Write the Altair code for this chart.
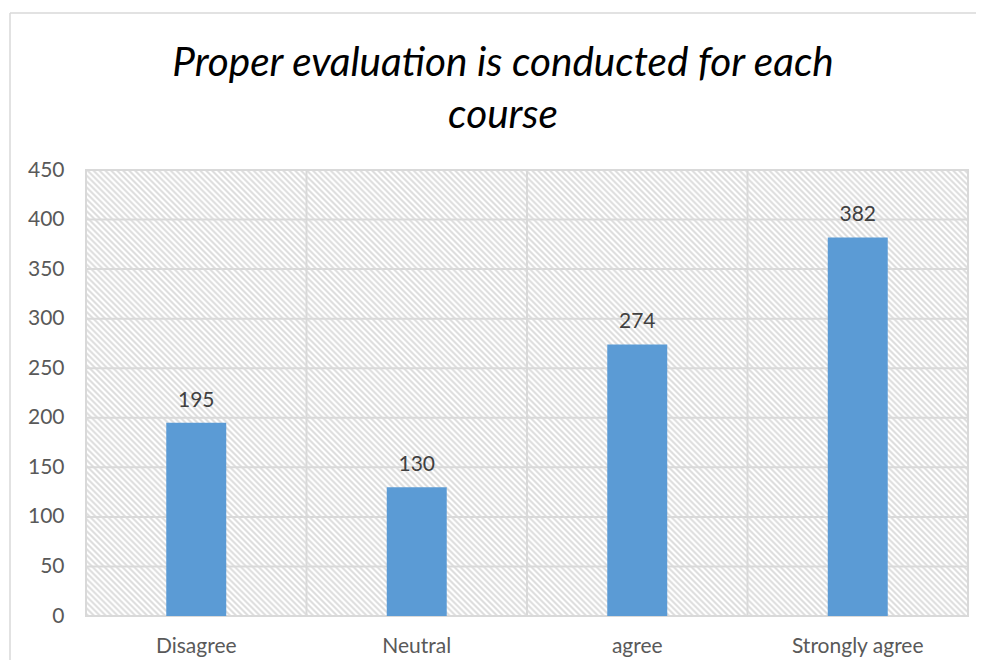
import altair as alt
import pandas as pd

categories = ["Disagree", "Neutral", "agree", "Strongly agree"]
counts = [195, 130, 274, 382]
y_ticks = [0, 50, 100, 150, 200, 250, 300, 350, 400, 450]
title_lines = ["Proper evaluation is conducted for each", "course"]

W, H = 882, 446
FONT = "Lato"

df = pd.DataFrame({"cat": categories, "n": counts})
grid_df = pd.DataFrame({"v": y_ticks})
bg_df = pd.DataFrame({"a": [0]})

# diagonal hatch pattern via a striped gradient (45 degree lines)
r = H / W
k = (1 + r) / (1 + r * r)
N = 224
stops = []
for i in range(N):
    stops += [
        alt.GradientStop(offset=i / N, color="#ffffff"),
        alt.GradientStop(offset=(i + 0.3) / N, color="#dedede"),
        alt.GradientStop(offset=(i + 0.5) / N, color="#dedede"),
        alt.GradientStop(offset=(i + 0.8) / N, color="#ffffff"),
    ]
stops.append(alt.GradientStop(offset=1, color="#ffffff"))
hatch = alt.LinearGradient(gradient="linear", stops=stops, x1=0, y1=1, x2=k, y2=1 - k * r)

xscale = alt.Scale(domain=categories, paddingInner=0, paddingOuter=0)
yscale = alt.Scale(domain=[0, 450], nice=False)

x_axis = alt.Axis(
    title=None, labelAngle=0, ticks=False, domain=False, grid=False,
    labelFont=FONT, labelFontSize=21, labelColor="#595959", labelPadding=19,
)
y_axis = alt.Axis(
    title=None, values=y_ticks, ticks=False, domain=False, grid=False,
    labelFont=FONT, labelFontSize=21, labelColor="#595959", labelPadding=22,
)

bg = alt.Chart(bg_df).mark_rect(fill=hatch, stroke="#d9d9d9", strokeWidth=2).encode(
    x=alt.value(0), x2=alt.value("width"), y=alt.value(0), y2=alt.value("height")
)

frame_left = alt.Chart(bg_df).mark_rule(color="#d9d9d9", strokeWidth=1.5).encode(
    x=alt.value(-76), y=alt.value(-157), y2=alt.value(H + 200)
)
frame_top = alt.Chart(bg_df).mark_rule(color="#d9d9d9", strokeWidth=1.5).encode(
    x=alt.value(-76), x2=alt.value(W + 200), y=alt.value(-157)
)

hgrid = alt.Chart(grid_df).mark_rule(color="#d9d9d9", strokeWidth=2).encode(
    y=alt.Y("v:Q", scale=yscale, axis=y_axis)
)

vgrid = alt.Chart(df).mark_rule(color="#d9d9d9", strokeWidth=2).encode(
    x=alt.X("cat:N", scale=xscale, sort=categories, bandPosition=0, axis=x_axis)
)

bars = alt.Chart(df).mark_bar(color="#5b9bd5", width=alt.RelativeBandSize(0.272)).encode(
    x=alt.X("cat:N", scale=xscale, sort=categories, axis=x_axis),
    y=alt.Y("n:Q", scale=yscale, axis=y_axis),
)

labels = alt.Chart(df).mark_text(
    font=FONT, fontSize=21, color="#404040", baseline="bottom", dy=-12
).encode(
    x=alt.X("cat:N", scale=xscale, sort=categories, axis=x_axis),
    y=alt.Y("n:Q", scale=yscale, axis=y_axis),
    text=alt.Text("n:Q"),
)

chart = alt.layer(frame_left, frame_top, bg, hgrid, vgrid, bars, labels).properties(
    width=W,
    height=H,
    autosize=alt.AutoSizeParams(type="none"),
    padding={"left": 78, "top": 162, "right": 8, "bottom": 44},
    title=alt.TitleParams(
        text=title_lines,
        font=FONT,
        fontSize=40.5,
        fontStyle="italic",
        fontWeight="normal",
        color="#000000",
        anchor="middle",
        dx=-24,
        lineHeight=52,
        offset=-124,
    ),
).configure_view(stroke=None)

chart.save("out.html", embed_options={"renderer": "svg", "actions": False})
